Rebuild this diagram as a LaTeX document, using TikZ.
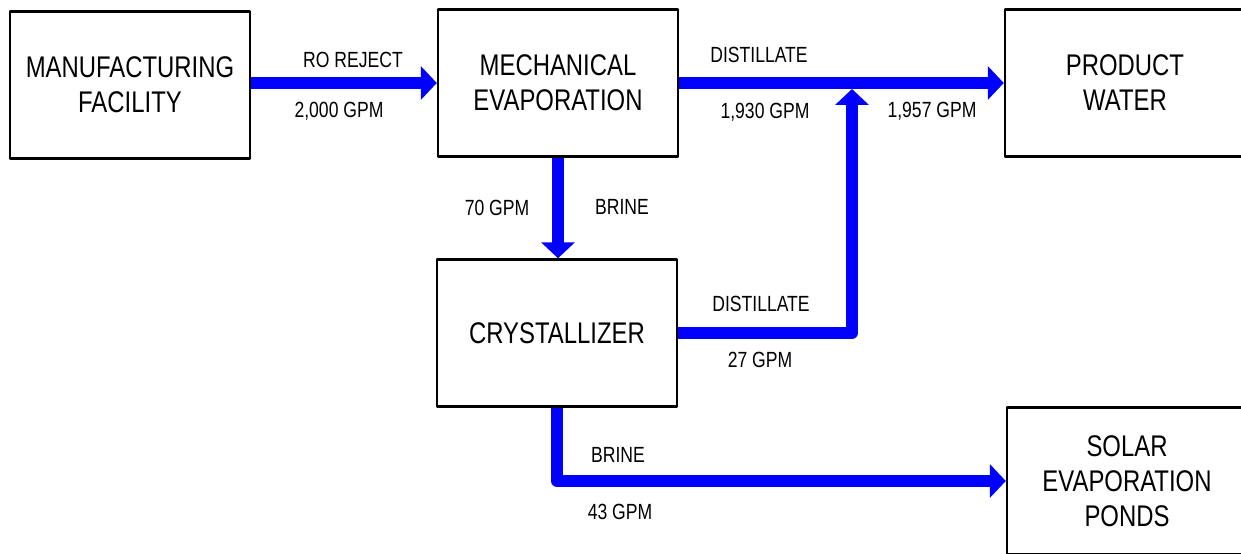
\documentclass[tikz,border=0pt]{standalone}
\usepackage{fontspec}
\setmainfont{Liberation Sans}[FakeStretch=0.8]
\usetikzlibrary{arrows.meta}
\begin{document}
\begin{tikzpicture}[x=0.02cm, y=-0.02cm, line join=round,
		box/.style={draw, line width=1.4pt, minimum width=4.8cm, minimum height=2.94cm, inner sep=0pt, align=center, font=\fontsize{17}{20}\selectfont},
		lbl/.style={font=\fontsize{12.5}{15}\selectfont},
		flow/.style={draw=blue, line width=0.24cm, line cap=butt, -{Triangle[width=0.66cm, length=0.32cm]}}]
		\useasboundingbox (0,0) rectangle (1241,554);
		\node[box] (mfg) at (130,85) {MANUFACTURING\\FACILITY};
		\node[box] (mech) at (558,83) {MECHANICAL\\EVAPORATION};
		\node[box] (prod) at (1125,83) {PRODUCT\\WATER};
		\node[box] (cryst) at (557,333) {CRYSTALLIZER};
		\node[box] (solar) at (1127,481) {SOLAR\\EVAPORATION\\PONDS};
		\coordinate (jn) at (852,333);
		\coordinate (merge) at (852,89);
		\coordinate (bend) at (557,481);
		\draw[flow] (mfg.east |- mech.east) -- (mech.west);
		\draw[flow] (mech.east) -- (prod.west);
		\draw[flow] (mech.south) -- (mech.south |- cryst.north);
		\draw[flow] (cryst.east) -- (jn) -- (merge);
		\draw[flow] (cryst.south) -- (bend) -- (solar.west);
		\node[lbl] (roTxt) at (353,60) {RO REJECT};
		\node[lbl] (roQ) at (339,111) {2,000 GPM};
		\node[lbl] (distTxt) at (759,55) {DISTILLATE};
		\node[lbl] (distQ) at (765,112) {1,930 GPM};
		\node[lbl] (prodQ) at (932,111) {1,957 GPM};
		\node[lbl] (brineQ) at (497,208) {70 GPM};
		\node[lbl] (brineTxt) at (622,207) {BRINE};
		\node[lbl] (cdistTxt) at (761,304) {DISTILLATE};
		\node[lbl] (cdistQ) at (760,360) {27 GPM};
		\node[lbl] (pondTxt) at (618,455) {BRINE};
		\node[lbl] (pondQ) at (620,512) {43 GPM};
	\end{tikzpicture}
\end{document}
